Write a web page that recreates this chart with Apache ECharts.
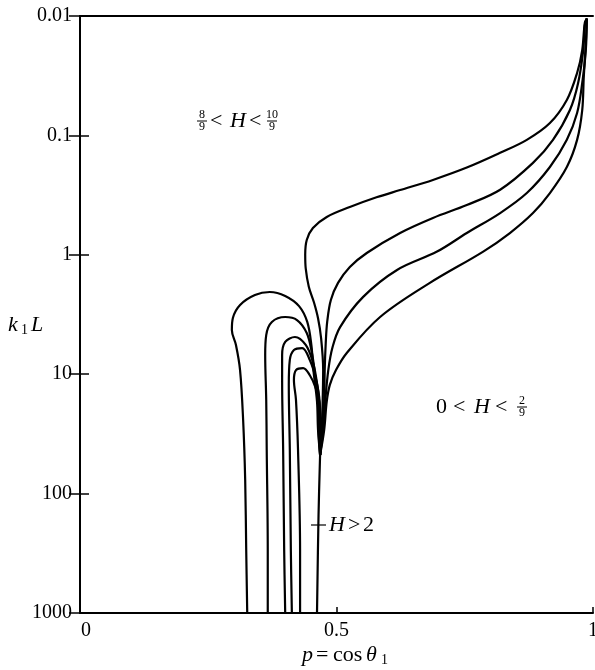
<!DOCTYPE html>
<html>
<head>
<meta charset="utf-8">
<script src="https://cdn.jsdelivr.net/npm/echarts@6/dist/echarts.min.js"></script>
<style>
  html, body { margin: 0; padding: 0; background: #fff; }
  #chart { width: 595px; height: 670px; }
</style>
</head>
<body>
<div id="chart"></div>
<script>
// Axis tick values
const xTicks = [0, 0.5, 1];
const yTicks = [0.01, 0.1, 1, 10, 100, 1000];

// Contours of H as [p, k1L] pairs.
// Upper family: from the corner near p = 1 down into the singular point.
const curveA = [[0.988,0.0105],[0.984,0.0114],[0.979,0.0193],[0.969,0.030],[0.949,0.0505],[0.916,0.0788],[0.871,0.109],[0.819,0.140],[0.754,0.186],[0.688,0.236],[0.624,0.287],[0.578,0.33],[0.526,0.398],[0.481,0.482],[0.454,0.597],[0.442,0.752],[0.439,1.0],[0.440,1.3],[0.446,1.85],[0.456,2.5],[0.464,3.4],[0.470,5.0],[0.474,9.23],[0.473,16.9],[0.471,29.3],[0.468,47.5]];
const curveB = [[0.988,0.0105],[0.984,0.012],[0.981,0.0193],[0.971,0.0364],[0.955,0.0613],[0.922,0.109],[0.883,0.170],[0.819,0.285],[0.754,0.383],[0.688,0.492],[0.624,0.657],[0.559,0.966],[0.526,1.265],[0.503,1.72],[0.489,2.39],[0.482,3.6],[0.479,5.5],[0.477,9.23],[0.476,16.9],[0.4725,29.3],[0.468,47.5]];
const curveC = [[0.988,0.0105],[0.986,0.0193],[0.979,0.0364],[0.969,0.0649],[0.949,0.109],[0.916,0.184],[0.871,0.304],[0.819,0.447],[0.754,0.657],[0.696,0.94],[0.618,1.34],[0.552,2.25],[0.507,4.03],[0.492,6.0],[0.484,9.23],[0.478,16.9],[0.474,29.3],[0.468,47.5]];
const curveD = [[0.988,0.0105],[0.986,0.0168],[0.982,0.0324],[0.979,0.0613],[0.969,0.109],[0.949,0.184],[0.916,0.304],[0.883,0.447],[0.838,0.657],[0.786,0.94],[0.682,1.72],[0.585,3.32],[0.520,6.64],[0.499,9.23],[0.487,12.3],[0.481,16.9],[0.476,29.3],[0.468,47.5]];

// Lower family: closed loops rising from k1L = 1000 and returning into the singular point.
const loop1 = [[0.326,1000],[0.324,297],[0.322,76.9],[0.318,24.2],[0.312,9.23],[0.304,5.69],[0.296,4.27],[0.298,3.38],[0.312,2.63],[0.341,2.17],[0.370,2.05],[0.400,2.21],[0.427,2.69],[0.443,3.65],[0.451,5.69],[0.455,9.23],[0.462,16.9],[0.464,29.3],[0.468,47.5]];
const loop2 = [[0.366,1000],[0.366,297],[0.364,43.2],[0.363,16.4],[0.361,6.9],[0.363,4.7],[0.374,3.65],[0.400,3.32],[0.423,3.52],[0.442,4.52],[0.452,6.6],[0.457,9.23],[0.464,16.9],[0.465,29.3],[0.468,47.5]];
const loop3 = [[0.400,1000],[0.398,297],[0.396,43.2],[0.394,11.2],[0.394,6.9],[0.400,5.37],[0.419,4.88],[0.440,5.69],[0.454,7.91],[0.460,10.5],[0.466,16.9],[0.4665,29.3],[0.468,47.5]];
const loop4 = [[0.413,1000],[0.411,297],[0.409,43.2],[0.407,12.3],[0.409,7.6],[0.417,6.27],[0.433,6.04],[0.448,7.6],[0.460,11.0],[0.467,16.9],[0.468,29.3],[0.468,47.5]];
const loop5 = [[0.429,1000],[0.429,297],[0.425,43.2],[0.421,16.4],[0.417,11.2],[0.421,9.23],[0.435,8.88],[0.448,10.2],[0.458,12.6],[0.467,17.5],[0.469,29.3],[0.468,47.5]];

// H = 2 separatrix below the singular point
const separatrix = [[0.468,47.5],[0.465,150],[0.462,1000]];

const curves = [curveA, curveB, curveC, curveD, loop1, loop2, loop3, loop4, loop5, separatrix];

const FONT = 'Liberation Serif';
const chart = echarts.init(document.getElementById('chart'), null, { renderer: 'canvas' });

const axisLine = { show: true, lineStyle: { color: '#000', width: 2 } };

// Text helpers for annotations
function txt(s, x, y, opts) {
  opts = opts || {};
  return {
    type: 'text', x: x, y: y, z: 100,
    style: {
      text: s, fill: '#000',
      font: (opts.italic ? 'italic ' : '') + (opts.size || 22) + 'px "' + FONT + '"',
      textAlign: opts.align || 'left', textVerticalAlign: 'middle'
    }
  };
}
function frac(num, den, cx, cy) {
  return [
    txt(num, cx, cy - 6, { size: 12, align: 'center' }),
    { type: 'line', z: 100, shape: { x1: cx - 5, y1: cy, x2: cx + 5, y2: cy }, style: { stroke: '#000', lineWidth: 1 } },
    txt(den, cx, cy + 6, { size: 12, align: 'center' })
  ];
}

const graphics = [].concat(
  // 8/9 < H < 10/9
  frac('8', '9', 202, 121),
  [txt('<', 210, 121), txt('H', 230, 121, { italic: true }), txt('<', 249, 121)],
  frac('10', '9', 272, 121),
  // 0 < H < 2/9
  [txt('0', 436, 407), txt('<', 453, 407), txt('H', 474, 407, { italic: true }), txt('<', 495, 407)],
  frac('2', '9', 522, 407),
  // H > 2 with leader
  [{ type: 'line', z: 100, shape: { x1: 311, y1: 525, x2: 326, y2: 525 }, style: { stroke: '#000', lineWidth: 1.2 } },
   txt('H', 329, 525, { italic: true }), txt('>', 348, 525), txt('2', 363, 525)],
  // y axis title k1 L
  [txt('k', 8, 325, { italic: true, size: 22 }), txt('1', 21, 330, { size: 14 }), txt('L', 31, 325, { italic: true, size: 22 })],
  // x axis title p = cos θ1
  [txt('p', 302, 655, { italic: true }), txt('=', 316, 655), txt('cos', 333, 655), txt('θ', 366, 655, { italic: true }), txt('1', 381, 660, { size: 14 })]
);

chart.setOption({
  animation: false,
  backgroundColor: '#fff',
  grid: { left: 80, right: 2, top: 16, bottom: 57, containLabel: false, outerBoundsMode: 'none' },
  xAxis: [
    {
      type: 'value', min: xTicks[0], max: xTicks[xTicks.length - 1], interval: 0.5,
      position: 'bottom',
      axisLine: axisLine,
      axisTick: { show: true, inside: true, length: 6, lineStyle: { color: '#000', width: 1.5 } },
      axisLabel: {
        show: true, margin: 8, color: '#000', fontFamily: FONT, fontSize: 20,
        showMinLabel: true, showMaxLabel: true,
        formatter: v => (v === 0 ? '{z|0}' : (xTicks.indexOf(v) >= 0 ? String(v) : '')),
        rich: { z: { fontFamily: FONT, fontSize: 20, color: '#000', padding: [0, 0, 0, 12] } }
      },
      splitLine: { show: false }
    },
    {
      type: 'value', min: 0, max: 1, position: 'top',
      axisLine: axisLine, axisTick: { show: false }, axisLabel: { show: false }, splitLine: { show: false }
    }
  ],
  yAxis: [
    {
      type: 'log', logBase: 10, min: yTicks[0], max: yTicks[yTicks.length - 1], inverse: true,
      position: 'left',
      axisLine: axisLine,
      axisTick: { show: true, inside: true, length: 9, lineStyle: { color: '#000', width: 1.5 } },
      axisLabel: {
        show: true, margin: 8, color: '#000', fontFamily: FONT, fontSize: 20,
        showMinLabel: true, showMaxLabel: true,
        formatter: v => {
          const m = yTicks.find(t => Math.abs(Math.log10(t) - Math.log10(v)) < 1e-6);
          return m !== undefined ? String(m) : '';
        }
      },
      splitLine: { show: false },
      minorTick: { show: false }
    },
    {
      type: 'log', logBase: 10, min: yTicks[0], max: yTicks[yTicks.length - 1], inverse: true,
      position: 'right',
      axisLine: axisLine,
      axisTick: { show: true, inside: true, length: 11, lineStyle: { color: '#000', width: 1.5 } },
      axisLabel: { show: false },
      splitLine: { show: false }
    }
  ],
  series: curves.map(c => ({
    type: 'line',
    data: c,
    xAxisIndex: 0, yAxisIndex: 0,
    smooth: 0.35,
    showSymbol: false,
    symbol: 'none',
    silent: true,
    clip: true,
    lineStyle: { color: '#000', width: 2.2 }
  })),
  graphic: graphics
});
</script>
</body>
</html>
